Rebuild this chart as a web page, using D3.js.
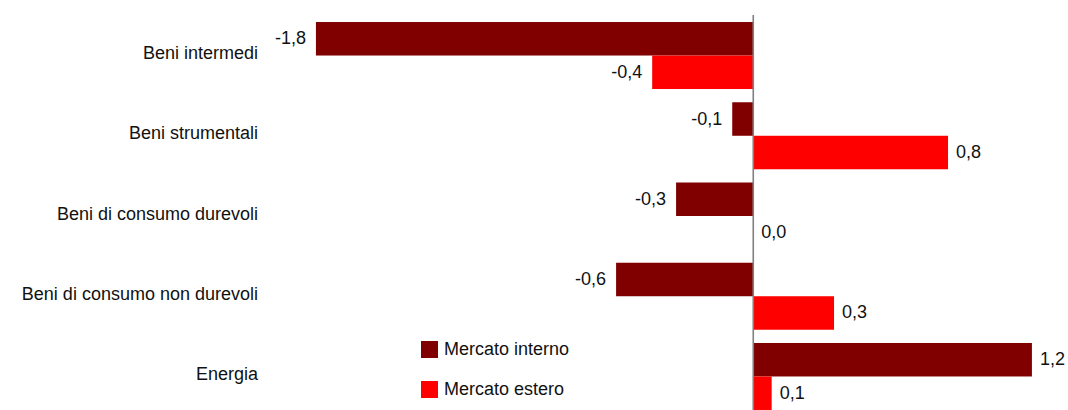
<!DOCTYPE html>
<html>
<head>
<meta charset="utf-8">
<script src="https://cdn.jsdelivr.net/npm/d3@7"></script>
<style>
  html, body { margin: 0; padding: 0; background: #fff; }
  svg { display: block; }
  text { font-family: "Liberation Sans", Arial, sans-serif; fill: #111; }
</style>
</head>
<body>
<svg id="chart" width="1068" height="410"></svg>
<script>
const categories = ["Beni intermedi", "Beni strumentali", "Beni di consumo durevoli", "Beni di consumo non durevoli", "Energia"];
const seriesNames = ["Mercato interno", "Mercato estero"];
const mercatoInterno = [-1.83, -0.088, -0.323, -0.574, 1.166];
const mercatoEstero = [-0.423, 0.815, 0.0, 0.338, 0.077];
const seriesColors = ["#800000", "#ff0000"];

const W = 1068, H = 410;
const svg = d3.select("#chart");

const locale = d3.formatLocale({decimal: ",", thousands: ".", grouping: [3], currency: ["", "€"], minus: "-"});
const fmt = locale.format(".1f");

const x = d3.scaleLinear().domain([-3.152, 1.317]).range([0, W]);
const y0 = d3.scaleBand().domain(categories).range([15.4, 416.6]).paddingInner(0.165).paddingOuter(0.0825);
const y1 = d3.scaleBand().domain(seriesNames).range([0, y0.bandwidth()]);

const rows = categories.map((c, i) => ({
  cat: c,
  vals: [
    {s: seriesNames[0], v: mercatoInterno[i], color: seriesColors[0]},
    {s: seriesNames[1], v: mercatoEstero[i], color: seriesColors[1]}
  ]
}));

const g = svg.selectAll("g.grp").data(rows).join("g")
  .attr("class", "grp")
  .attr("transform", d => `translate(0,${y0(d.cat)})`);

g.selectAll("rect").data(d => d.vals).join("rect")
  .attr("x", d => x(Math.min(0, d.v)))
  .attr("width", d => Math.abs(x(d.v) - x(0)))
  .attr("y", d => y1(d.s))
  .attr("height", y1.bandwidth())
  .attr("fill", d => d.color);

g.selectAll("text.val").data(d => d.vals).join("text")
  .attr("class", "val")
  .attr("x", d => d.v < 0 ? x(d.v) - 10 : x(d.v) + 8)
  .attr("y", d => y1(d.s) + y1.bandwidth() / 2 + 5.5)
  .attr("text-anchor", d => d.v < 0 ? "end" : "start")
  .style("font-size", "18px")
  .text(d => fmt(d.v));

// category axis labels
svg.append("g").selectAll("text").data(categories).join("text")
  .attr("x", 258)
  .attr("y", d => y0(d) + y0.bandwidth() / 2 + 3.5)
  .attr("text-anchor", "end")
  .style("font-size", "18px")
  .text(d => d);

// zero line
svg.append("line")
  .attr("x1", x(0)).attr("x2", x(0))
  .attr("y1", 15).attr("y2", H)
  .attr("stroke", "#808080").attr("stroke-width", 1.6);

// legend
const leg = svg.append("g").selectAll("g").data(seriesNames).join("g")
  .attr("transform", (d, i) => `translate(421,${341 + i * 40})`);
leg.append("rect").attr("width", 17).attr("height", 17)
  .attr("fill", (d, i) => seriesColors[i]);
leg.append("text").attr("x", 23).attr("y", 13.5)
  .style("font-size", "18px")
  .text(d => d);
</script>
</body>
</html>
